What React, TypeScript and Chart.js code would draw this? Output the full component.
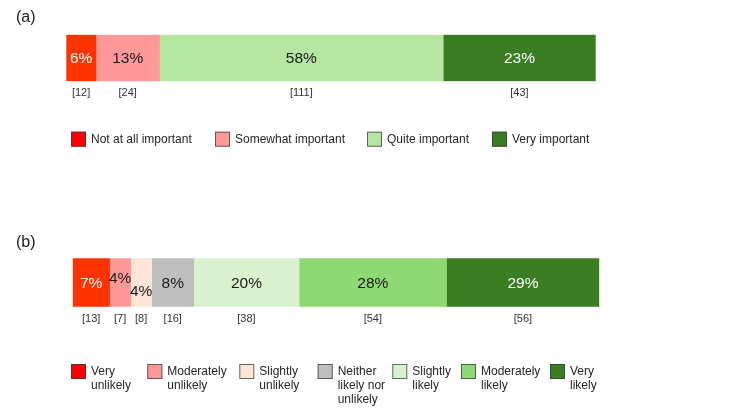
import React, { useEffect, useRef } from "react";
import { Chart, registerables } from "chart.js";

Chart.register(...registerables);

// ---------- Panel (a) data ----------
const importanceCategories = ["Not at all important", "Somewhat important", "Quite important", "Very important"];
// segment lengths as drawn in the picture (share of the bar)
const importanceLengths = [5.6, 12.0, 53.6, 28.8];
const importancePercentLabels = ["6%", "13%", "58%", "23%"];
const importanceCounts = [12, 24, 111, 43];

// ---------- Panel (b) data ----------
const likelihoodCategories = [
  "Very\nunlikely",
  "Moderately\nunlikely",
  "Slightly\nunlikely",
  "Neither\nlikely nor\nunlikely",
  "Slightly\nlikely",
  "Moderately\nlikely",
  "Very\nlikely",
];
const likelihoodLengths = [7, 4, 4, 8, 20, 28, 29];
const likelihoodPercentLabels = ["7%", "4%", "4%", "8%", "20%", "28%", "29%"];
const likelihoodCounts = [13, 7, 8, 16, 38, 54, 56];

// ---------- Styles ----------
const importanceStyle = {
  top: 0,
  height: 210,
  title: "(a)",
  titleY: 18,
  padding: { left: 66.3, right: 154.3, top: 34.7, bottom: 128.7 },
  colors: ["#FF3300", "#FF9999", "#B5E6A2", "#3B7D23"],
  legendColors: ["#FF0000", "#FF9999", "#B5E6A2", "#3B7D23"],
  textColors: ["#ffffff", "#1a1a1a", "#1a1a1a", "#ffffff"],
  labelOffsets: [0, 0, 0, 0],
  legendXs: [71, 215, 367, 492],
  legendY: 131.7,
};

const likelihoodStyle = {
  top: 210,
  height: 205,
  title: "(b)",
  titleY: 32.5,
  padding: { left: 72.7, right: 150.7, top: 48.3, bottom: 108.3 },
  colors: ["#FF3300", "#FF9999", "#FCE4D6", "#BFBFBF", "#DAF2D0", "#8ED973", "#3B7D23"],
  legendColors: ["#FF0000", "#FF9999", "#FCE4D6", "#BFBFBF", "#DAF2D0", "#8ED973", "#3B7D23"],
  textColors: ["#ffffff", "#1a1a1a", "#1a1a1a", "#1a1a1a", "#1a1a1a", "#1a1a1a", "#ffffff"],
  labelOffsets: [0, -5, 8, 0, 0, 0, 0],
  legendXs: [71, 147.3, 239.3, 317.7, 392.3, 461, 550],
  legendY: 154,
};

const FONT = "'Liberation Sans', Arial, sans-serif";

type PanelProps = {
  categories: string[];
  lengths: number[];
  pctLabels: string[];
  counts: number[];
  style: typeof importanceStyle;
};

function Panel({ categories, lengths, pctLabels, counts, style }: PanelProps) {
  const ref = useRef<HTMLCanvasElement | null>(null);

  useEffect(() => {
    if (!ref.current) return;
    const total = lengths.reduce((a, b) => a + b, 0);

    const annotate = {
      id: "annotate",
      afterDatasetsDraw(chart: any) {
        const ctx = chart.ctx as CanvasRenderingContext2D;
        const area = chart.chartArea;
        ctx.save();
        // panel title
        ctx.fillStyle = "#1a1a1a";
        ctx.font = `16px ${FONT}`;
        ctx.textAlign = "left";
        ctx.textBaseline = "middle";
        ctx.fillText(style.title, 16, style.titleY);

        chart.data.datasets.forEach((ds: any, i: number) => {
          const meta = chart.getDatasetMeta(i);
          const el = meta.data[0];
          if (!el) return;
          const p = el.getProps(["x", "base", "y"], true);
          const cx = (p.x + p.base) / 2;
          // percentage inside bar
          ctx.font = `15.5px ${FONT}`;
          ctx.textAlign = "center";
          ctx.textBaseline = "middle";
          ctx.fillStyle = style.textColors[i];
          ctx.fillText(pctLabels[i], cx, p.y + 1 + style.labelOffsets[i]);
          // count below bar
          ctx.font = `11px ${FONT}`;
          ctx.fillStyle = "#333333";
          ctx.fillText(`[${counts[i]}]`, cx, area.bottom + 12);
        });

        // legend
        categories.forEach((name, i) => {
          const x = style.legendXs[i];
          const y = style.legendY;
          ctx.fillStyle = style.legendColors[i];
          ctx.fillRect(x, y, 15, 15);
          ctx.strokeStyle = "rgba(60,60,60,0.75)";
          ctx.lineWidth = 1;
          ctx.strokeRect(x + 0.5, y + 0.5, 14, 14);
          ctx.fillStyle = "#262626";
          ctx.font = `12px ${FONT}`;
          ctx.textAlign = "left";
          ctx.textBaseline = "middle";
          name.split("\n").forEach((line, k) => {
            ctx.fillText(line, x + 20, y + 7.6 + k * 14.2);
          });
        });
        ctx.restore();
      },
    };

    const chart = new Chart(ref.current, {
      type: "bar",
      data: {
        labels: [""],
        datasets: categories.map((name, i) => ({
          label: name.replace(/\n/g, " "),
          data: [lengths[i]],
          backgroundColor: style.colors[i],
          borderWidth: 0,
          barPercentage: 1,
          categoryPercentage: 1,
        })),
      },
      options: {
        indexAxis: "y",
        responsive: false,
        maintainAspectRatio: false,
        animation: false,
        layout: { padding: style.padding },
        plugins: {
          legend: { display: false },
          tooltip: { enabled: false },
          title: { display: false },
        },
        scales: {
          x: { display: false, stacked: true, min: 0, max: total },
          y: { display: false, stacked: true },
        },
      },
      plugins: [annotate],
    });
    return () => chart.destroy();
  }, []);

  return (
    <canvas
      ref={ref}
      width={750}
      height={style.height}
      style={{ position: "absolute", left: 0, top: style.top, width: 750, height: style.height, display: "block" }}
    />
  );
}

export default function App() {
  return (
    <div style={{ position: "absolute", left: 0, top: 0, width: 750, height: 415, background: "#ffffff", overflow: "hidden" }}>
      <Panel
        categories={importanceCategories}
        lengths={importanceLengths}
        pctLabels={importancePercentLabels}
        counts={importanceCounts}
        style={importanceStyle}
      />
      <Panel
        categories={likelihoodCategories}
        lengths={likelihoodLengths}
        pctLabels={likelihoodPercentLabels}
        counts={likelihoodCounts}
        style={likelihoodStyle as any}
      />
    </div>
  );
}
